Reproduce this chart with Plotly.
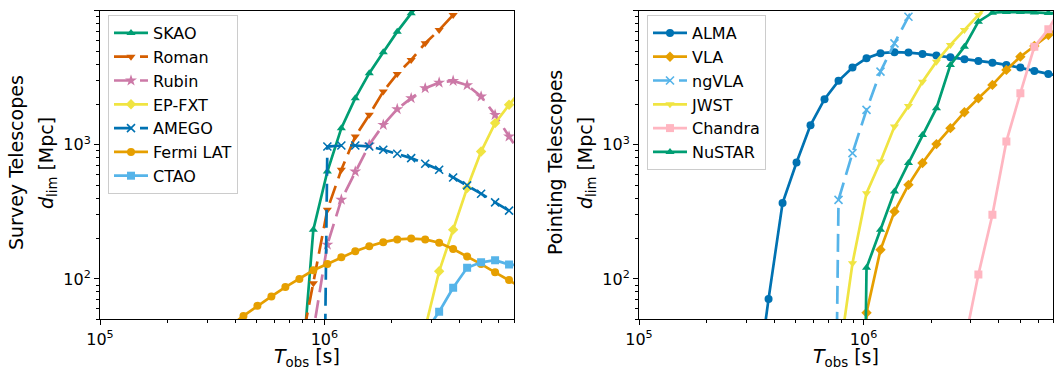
"""Limiting distance vs. observation time for survey and pointing telescopes."""

from __future__ import annotations

import math

import plotly.graph_objects as go

# observation time grid [s]
T_OBS = [
    3.271e5, 3.776e5, 4.359e5, 5.030e5, 5.806e5, 6.702e5, 7.737e5, 8.929e5,
    1.031e6, 1.190e6, 1.373e6, 1.585e6, 1.830e6, 2.112e6, 2.437e6, 2.814e6,
    3.247e6, 3.749e6, 4.327e6, 4.994e6, 5.765e6, 6.653e6, 7.680e6,
]

# survey telescopes, d_lim [Mpc] (0 = not detectable, None = not computed)
SKAO = [0, 0, 0, 0, 0, 0, 12, 233, 632, 1331, 2226, 3420, 4900, 6980, 9560,
        12500, None, None, None, None, None, None, None]
ROMAN = [0, 0, 0, 0, 0, 0, 27, 93, 328, 651, 1153, 1673, 2495, 3380, 4295,
         5715, 7180, 9290, 12000, None, None, None, None]
RUBIN = [0, 0, 0, 0, 0, 0, 0, 41, 180, 390, 632, 1000, 1409, 1845, 2227,
         2644, 2909, 2997, 2786, 2293, 1673, 1153, 800]
EP_FXT = [0, 0, 0, 0, 0, 0, 0, 0, 0, 0, 0, 0, 0, 0, 0,
          43, 114, 233, 476, 891, 1452, 1987, 2650]
AMEGO = [0, 0, 0, 0, 0, 0, 0, 0, 971, 988, 988, 971, 919, 857, 796,
         722, 652, 571, 498, 432, 372, 323, 280]
FERMI_LAT = [0, 44, 53, 63, 74, 87, 100, 116, 129, 145, 161, 175, 188, 197, 200,
             197, 186, 167, 147, 129, 112, 98, 85]
CTAO = [0, 0, 0, 0, 0, 0, 0, 0, 0, 0, 0, 0, 0, 0, 0,
        40, 57, 86, 121, 133, 138, 128, 126]

# pointing telescopes, d_lim [Mpc]
ALMA = [12, 71, 368, 738, 1402, 2190, 2998, 3767, 4427, 4823, 4903, 4870,
        4760, 4626, 4500, 4350, 4222, 4100, 3942, 3767, 3558, 3380, 3230]
VLA = [0, 0, 0, 0, 0, 0, 0, 0, 56, 165, 318, 503, 731, 1012, 1331,
       1751, 2226, 2798, 3618, 4543, 5457, 6590, 7900]
NGVLA = [0, 0, 0, 0, 0, 0, 389, 867, 1823, 3514, 5713, 9020, 13500,
         None, None, None, None, None, None, None, None, None, None]
JWST = [0, 0, 0, 0, 0, 0, 24, 131, 436, 751, 1368, 1950, 2957, 4168, 5555,
        7185, 9290, 12000, None, None, None, None, None]
CHANDRA = [0, 0, 0, 0, 0, 0, 0, 0, 0, 0, 0, 0, 0, 0, 0,
           33, 108, 301, 1060, 2427, 5396, 7258, 11000]
NUSTAR = [0, 0, 0, 0, 0, 0, 0, 0, 121, 233, 449, 731, 1186, 1875, 3945,
          5395, 8280, 9660, 9800, 9800, 9700, 9600, 9550]

X_RANGE = [1e5, 7e6]
Y_RANGE = [50, 1e4]

BLUE = "#0072B2"
ORANGE = "#E69F00"
GREEN = "#009E73"
VERMILLION = "#D55E00"
PINK = "#CC79A7"
YELLOW = "#F0E442"
SKY = "#56B4E9"
LIGHTPINK = "#FFB6C1"

FONT = "DejaVu Sans"
DASH = "18px,8px"
FLOOR = 1e-6  # non-detections drawn far below the axis, like matplotlib's clip

W, H = 1058, 371


def _clip(values: list) -> list:
    """Replace non-positive distances with a tiny floor for the log axis."""
    return [v if v is None or v > 0 else FLOOR for v in values]


def add_curve(fig, values, name, color, symbol, axis, legend, dashed=False):
    """Add one telescope curve."""
    line_symbol = symbol == "x-thin"
    fig.add_trace(
        go.Scatter(
            x=T_OBS,
            y=_clip(values),
            name=name,
            mode="lines+markers",
            line={"color": color, "width": 2.7, "dash": DASH if dashed else "solid"},
            marker={
                "symbol": symbol,
                "size": 9 if symbol.startswith("star") else 8,
                "color": color,
                "line": {"color": color, "width": 1.6 if line_symbol else 0},
            },
            xaxis="x" if axis == 1 else "x2",
            yaxis="y" if axis == 1 else "y2",
            legend=legend,
        )
    )


fig = go.Figure()

add_curve(fig, SKAO, "SKAO", GREEN, "triangle-up", 1, "legend")
add_curve(fig, ROMAN, "Roman", VERMILLION, "triangle-down", 1, "legend", dashed=True)
add_curve(fig, RUBIN, "Rubin", PINK, "star", 1, "legend", dashed=True)
add_curve(fig, EP_FXT, "EP-FXT", YELLOW, "diamond", 1, "legend")
add_curve(fig, AMEGO, "AMEGO", BLUE, "x-thin", 1, "legend", dashed=True)
add_curve(fig, FERMI_LAT, "Fermi LAT", ORANGE, "circle", 1, "legend")
add_curve(fig, CTAO, "CTAO", SKY, "square", 1, "legend")

add_curve(fig, ALMA, "ALMA", BLUE, "circle", 2, "legend2")
add_curve(fig, VLA, "VLA", ORANGE, "diamond", 2, "legend2")
add_curve(fig, NGVLA, "ngVLA", SKY, "x-thin", 2, "legend2", dashed=True)
add_curve(fig, JWST, "JWST", YELLOW, "triangle-down", 2, "legend2")
add_curve(fig, CHANDRA, "Chandra", LIGHTPINK, "square", 2, "legend2")
add_curve(fig, NUSTAR, "NuSTAR", GREEN, "triangle-up", 2, "legend2")

X_MINOR = [m * 10 ** e for e in (5, 6) for m in range(2, 10)]
Y_MINOR = [m * 10 ** e for e in (1, 2, 3) for m in range(2, 10)]

AXIS_COMMON = dict(
    type="log",
    ticks="outside",
    ticklen=5,
    tickwidth=1,
    tickcolor="black",
    showline=True,
    mirror=True,
    linecolor="black",
    linewidth=1,
    showgrid=False,
    zeroline=False,
    automargin=False,
    tickfont={"size": 16},
)


def x_axis(domain, anchor):
    return AXIS_COMMON | dict(
        domain=domain,
        anchor=anchor,
        range=[math.log10(v) for v in X_RANGE],
        tickvals=[1e5, 1e6],
        ticktext=["10<sup>5</sup>", "10<sup>6</sup>"],
        minor={"tickvals": X_MINOR, "ticks": "outside", "ticklen": 3,
               "tickcolor": "black", "tickwidth": 0.8},
    )


def y_axis(domain, anchor):
    return AXIS_COMMON | dict(
        domain=domain,
        anchor=anchor,
        range=[math.log10(v) for v in Y_RANGE],
        tickvals=[1e2, 1e3, 1e4],
        ticktext=["10<sup>2</sup>", "10<sup>3</sup>", "10<sup>4</sup>"],
        minor={"tickvals": Y_MINOR, "ticks": "outside", "ticklen": 3,
               "tickcolor": "black", "tickwidth": 0.8},
    )


Y_TOP, Y_BOTTOM = 10.7, 319.3
Y_DOMAIN = [(H - Y_BOTTOM) / H, (H - Y_TOP) / H]
LEFT_X = [100, 514]
RIGHT_X = [639, 1053.3]

legend_style = dict(
    xanchor="left",
    yanchor="top",
    bgcolor="rgba(255,255,255,0.8)",
    bordercolor="#cccccc",
    borderwidth=1,
    font={"size": 16},
    itemwidth=34,
)


def _text(text, x, y, angle=0):
    return dict(
        text=text,
        x=x / W, y=(H - y) / H,
        xref="paper", yref="paper",
        xanchor="center", yanchor="middle",
        textangle=angle, showarrow=False, font={"size": 19},
    )


def axis_titles(x_center, y_label_x, label):
    """Axis titles placed as paper annotations."""
    return [
        _text("<i>T</i><sub>obs</sub> [s]", x_center, 357),
        _text(label, y_label_x, 163, -90),
        _text("<i>d</i><sub>lim</sub> [Mpc]", y_label_x + 31, 163, -90),
    ]


fig.update_layout(
    width=W,
    height=H,
    margin={"l": 0, "r": 0, "t": 0, "b": 0},
    template="simple_white",
    font={"family": FONT, "color": "black"},
    paper_bgcolor="white",
    plot_bgcolor="white",
    xaxis=x_axis([LEFT_X[0] / W, LEFT_X[1] / W], "y"),
    yaxis=y_axis(Y_DOMAIN, "x"),
    xaxis2=x_axis([RIGHT_X[0] / W, RIGHT_X[1] / W], "y2"),
    yaxis2=y_axis(Y_DOMAIN, "x2"),
    legend=legend_style | {"x": 108 / W, "y": (H - 15) / H},
    legend2=legend_style | {"x": 647 / W, "y": (H - 15) / H},
    annotations=axis_titles(307, 16, "Survey Telescopes")
    + axis_titles(846, 555, "Pointing Telescopes"),
    showlegend=True,
)

fig.write_html(
    "out.html",
    config={"displayModeBar": False},
    post_script="document.body.style.margin = '0px';",
)
